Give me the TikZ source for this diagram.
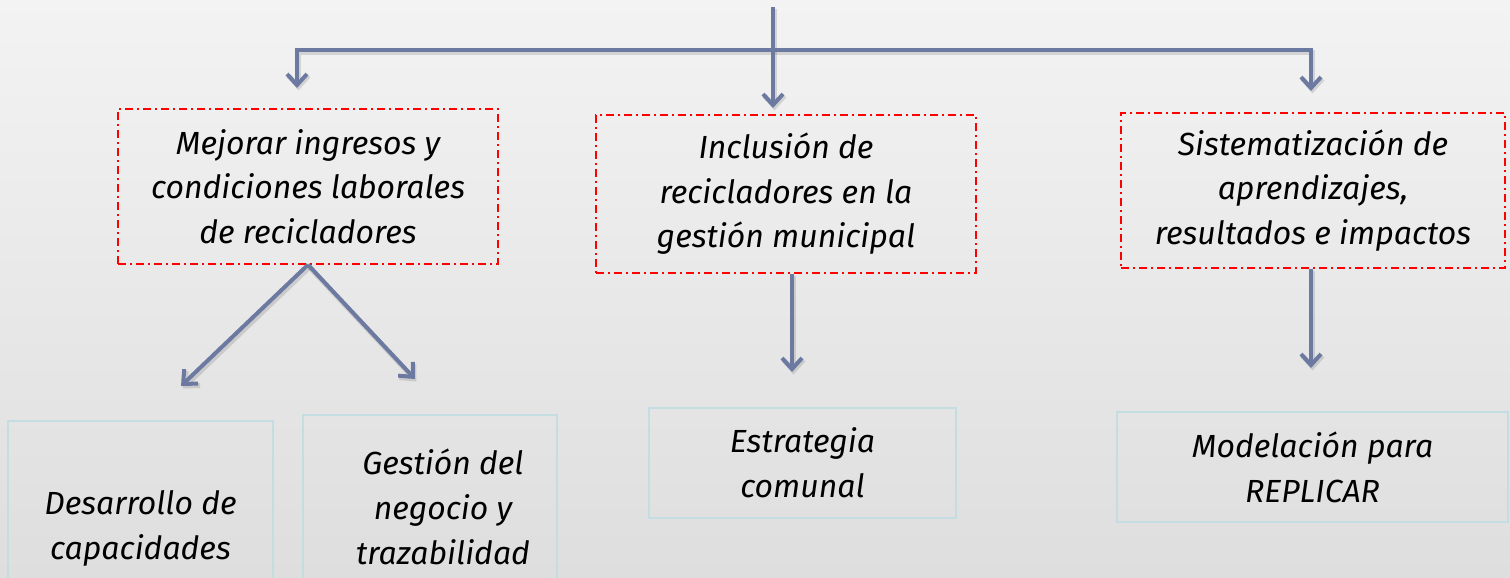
\documentclass[tikz,border=0pt]{standalone}
\usepackage{fontspec}
\setmainfont{Fira Sans}
\usetikzlibrary{arrows.meta}
\definecolor{arrowc}{RGB}{108,122,162}
\definecolor{boxline}{RGB}{196,221,227}
\definecolor{bgtop}{RGB}{243,243,243}
\definecolor{bgbot}{RGB}{222,222,222}
\tikzset{
  redbox/.style={draw=red, line width=1.5pt, dash pattern=on 8pt off 4pt on 2pt off 4pt, align=center, inner sep=0pt, font=\fontsize{32}{44.5}\selectfont\itshape},
  bluebox/.style={draw=boxline, line width=2pt, align=center, inner sep=0pt, font=\fontsize{32}{45}\selectfont\itshape},
  boxtext/.style={align=center, inner sep=0pt, font=\fontsize{32}{45}\selectfont\itshape},
  conn/.style={draw=arrowc, line width=4pt, -{Straight Barb[length=11pt,width=20pt]},
    preaction={draw=black, opacity=0.12, line width=5pt, transform canvas={xshift=1.5pt,yshift=-2.5pt}}},
  plainline/.style={draw=arrowc, line width=4pt,
    preaction={draw=black, opacity=0.12, line width=5pt, transform canvas={xshift=1.5pt,yshift=-2.5pt}}}
}
\begin{document}
\begin{tikzpicture}[x=1pt,y=-1pt]
\shade[top color=bgtop, bottom color=bgbot] (0,0) rectangle (1510,578);
\useasboundingbox (0,0) rectangle (1510,578);
\clip (0,0) rectangle (1510,578);

% upper boxes
\node[redbox, minimum width=380pt, minimum height=155pt] (m1) at (308,186.5)
  {Mejorar ingresos y\\condiciones laborales\\de recicladores};
\node[redbox, minimum width=380pt, minimum height=158pt] (m2) at (786,194)
  {Inclusión de\\recicladores en la\\gestión municipal};
\node[redbox, minimum width=384pt, minimum height=155pt] (m3) at (1313,190.5)
  {Sistematización de\\aprendizajes,\\resultados e impactos};

% lower boxes
\node[bluebox, minimum width=265pt, minimum height=214pt] (b1) at (140.5,528)
  {Desarrollo de\\capacidades};
\node[bluebox, minimum width=254pt, minimum height=184pt] (b2) at (430,507) {};
\node[boxtext] (b2t) at (443,507) {Gestión del\\negocio y\\trazabilidad};
\node[bluebox, minimum width=307pt, minimum height=110pt] (b3) at (802.5,463)
  {Estrategia\\comunal};
\node[bluebox, minimum width=391pt, minimum height=110pt] (b4) at (1312.5,467)
  {Modelación para\\REPLICAR};

% top connectors
\coordinate (top) at (773,7);
\coordinate (jn) at (773,50);
\coordinate (a1) at (297,88);
\coordinate (a2) at (773,108);
\coordinate (a3) at (1311,91);
\path[plainline] (top) -- (jn);
\path[conn] (jn) -| (a1);
\path[conn] (jn) -- (a2);
\path[conn] (jn) -| (a3);

% lower connectors
\coordinate (d1) at (181,386);
\coordinate (d2) at (415,379);
\coordinate (d3) at (792,372);
\coordinate (d4) at (1311,368);
\path[conn] (m1.south) -- (d1);
\path[conn] (m1.south) -- (d2);
\path[conn] (m2.south -| d3) -- (d3);
\path[conn] (m3.south -| d4) -- (d4);
\end{tikzpicture}
\end{document}
